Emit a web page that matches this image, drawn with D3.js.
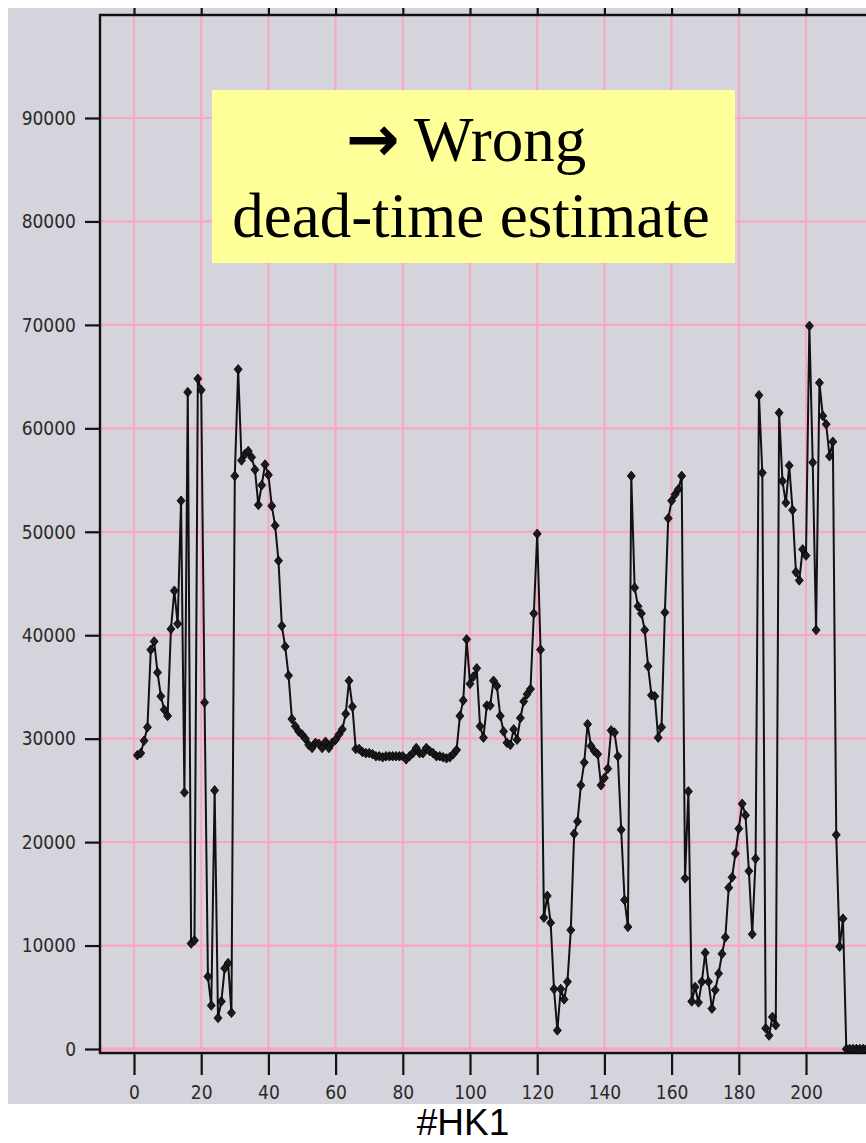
<!DOCTYPE html>
<html>
<head>
<meta charset="utf-8">
<script src="https://cdn.jsdelivr.net/npm/d3@7"></script>
<style>
  html, body { margin: 0; padding: 0; background: #fff; }
  svg { display: block; }
</style>
</head>
<body>
<div id="chart"></div>
<script>
// counts per readout, first point is readout #1
const counts = [
  28400, 28600, 29800, 31100, 38600, 39400, 36400, 34100, 32800, 32200,
  40600, 44300, 41100, 53000, 24800, 63500, 10200, 10500, 64800, 63700,
  33500, 7000, 4200, 25000, 3000, 4600, 7800, 8300, 3500, 55400,
  65700, 56900, 57500, 57800, 57200, 56000, 52600, 54500, 56500, 55500,
  52500, 50600, 47200, 40900, 38900, 36100, 31900, 31200, 30700, 30400,
  30000, 29400, 29100, 29600, 29500, 29100, 29700, 29100, 29600, 29900,
  30400, 30900, 32400, 35600, 33100, 29000, 29000, 28700, 28600, 28600,
  28500, 28300, 28300, 28200, 28300, 28300, 28300, 28300, 28300, 28300,
  28000, 28300, 28600, 29100, 28600, 28600, 29100, 28800, 28600, 28300,
  28300, 28200, 28100, 28200, 28500, 28900, 32200, 33700, 39600, 35300,
  36000, 36800, 31200, 30100, 33200, 33200, 35600, 35100, 32200, 30700,
  29600, 29400, 30900, 29900, 32000, 33600, 34300, 34800, 42100, 49800,
  38600, 12700, 14800, 12200, 5800, 1800, 5800, 4800, 6500, 11500,
  20800, 22000, 25500, 27700, 31400, 29300, 28800, 28500, 25500, 26200,
  27100, 30800, 30600, 28300, 21200, 14400, 11800, 55400, 44600, 42800,
  42100, 40500, 37000, 34200, 34100, 30100, 31100, 42200, 51300, 53000,
  53600, 54100, 55400, 16500, 24900, 4600, 6000, 4500, 6500, 9300,
  6500, 3900, 5700, 7300, 9200, 10800, 15600, 16600, 18900, 21300,
  23700, 22600, 17200, 11100, 18400, 63200, 55700, 2000, 1300, 3100,
  2300, 61500, 54900, 52800, 56400, 52100, 46100, 45300, 48300, 47700,
  69900, 56700, 40500, 64400, 61200, 60400, 57300, 58700, 20700, 9900,
  12600, 0, 0, 0, 0, 0, 0, 0, 0, 0, 0, 0
];
const xTicks = [0, 20, 40, 60, 80, 100, 120, 140, 160, 180, 200];
const yTicks = [0, 10000, 20000, 30000, 40000, 50000, 60000, 70000, 80000, 90000];
const noteLines = ["Wrong", "dead-time estimate"];
const caption = "#HK1";

const W = 866, H = 1143;
const panel = { left: 8, top: 8, bottom: 1104 };
const frame = { left: 100, top: 15, bottom: 1053 };

const data = counts.map((v, i) => [i + 1, v]);

const svg = d3.select("#chart").append("svg")
  .attr("width", W).attr("height", H);

svg.append("rect")
  .attr("x", panel.left).attr("y", panel.top)
  .attr("width", W - panel.left).attr("height", panel.bottom - panel.top)
  .attr("fill", "#d5d4dc");

var x = d3.scaleLinear().domain([0, 200]).range([134, 806]);
var y = d3.scaleLinear().domain([0, 90000]).range([1049, 118]);

// grid (220 line sits just off the right edge)
const grid = svg.append("g").attr("stroke", "#fba6bf");
grid.selectAll("line.v").data(xTicks).enter().append("line")
  .attr("x1", d => x(d)).attr("x2", d => x(d))
  .attr("y1", frame.top).attr("y2", y(0))
  .attr("stroke-width", 2);
grid.selectAll("line.h").data(yTicks).enter().append("line")
  .attr("x1", frame.left).attr("x2", W)
  .attr("y1", d => y(d)).attr("y2", d => y(d))
  .attr("stroke-width", d => d === 0 ? 3.5 : 2.2);

// axes
const tickFont = "'DejaVu Sans Condensed', 'DejaVu Sans', sans-serif";
const axisLeft = svg.append("g")
  .attr("transform", `translate(${frame.left},0)`)
  .call(d3.axisLeft(y).tickValues(yTicks).tickSize(15).tickPadding(9).tickFormat(d3.format("d")));
const axisBottom = svg.append("g")
  .attr("transform", `translate(0,${frame.bottom})`)
  .call(d3.axisBottom(x).tickValues(xTicks).tickSize(22).tickPadding(11));
const axisTop = svg.append("g")
  .attr("transform", `translate(0,${frame.top})`)
  .call(d3.axisTop(x).tickValues(xTicks).tickSize(7).tickFormat(""));

[axisLeft, axisBottom, axisTop].forEach(a => {
  a.select(".domain").remove();
  a.selectAll(".tick line").attr("stroke", "#111").attr("stroke-width", 2.2);
  a.selectAll(".tick text")
    .attr("fill", "#2a2a2a")
    .style("font-family", tickFont)
    .style("font-size", "19px");
});
axisLeft.selectAll(".tick text").attr("dy", "0.33em");

// frame
svg.append("path")
  .attr("d", `M${W},${frame.top}H${frame.left}V${frame.bottom + 1}`)
  .attr("fill", "none").attr("stroke", "#111").attr("stroke-width", 2.4);
svg.append("line")
  .attr("x1", frame.left - 1).attr("x2", W)
  .attr("y1", frame.bottom).attr("y2", frame.bottom)
  .attr("stroke", "#111").attr("stroke-width", 2.4);

// series
const line = d3.line().x(d => x(d[0])).y(d => y(d[1]));
svg.append("path")
  .datum(data)
  .attr("d", line)
  .attr("fill", "none")
  .attr("stroke", "#111")
  .attr("stroke-width", 2);

const diamond = {
  draw(ctx, size) {
    const w = 4, h = 4.8;
    ctx.moveTo(0, -h); ctx.lineTo(w, 0); ctx.lineTo(0, h); ctx.lineTo(-w, 0); ctx.closePath();
  }
};
svg.append("g").selectAll("path").data(data).enter().append("path")
  .attr("transform", d => `translate(${x(d[0])},${y(d[1])})`)
  .attr("d", d3.symbol().type(diamond))
  .attr("fill", "#1a1a1a")
  .attr("stroke", "#000")
  .attr("stroke-width", 0.8);

// annotation
const note = svg.append("g");
note.append("rect")
  .attr("x", 212).attr("y", 90).attr("width", 523).attr("height", 173)
  .attr("fill", "#ffff99");
const t1 = note.append("text")
  .attr("x", 466).attr("y", 161)
  .attr("text-anchor", "middle")
  .style("font-family", "'Liberation Serif', 'Times New Roman', serif")
  .style("font-size", "63px")
  .attr("fill", "#000");
t1.append("tspan")
  .style("font-family", "'DejaVu Sans', sans-serif")
  .style("font-weight", "bold")
  .style("font-size", "64px")
  .text("\u2192");
t1.append("tspan").text(" " + noteLines[0]);
note.append("text")
  .attr("x", 471).attr("y", 237)
  .attr("text-anchor", "middle")
  .style("font-family", "'Liberation Serif', 'Times New Roman', serif")
  .style("font-size", "63px")
  .attr("fill", "#000")
  .text(noteLines[1]);

// caption
svg.append("text")
  .attr("x", 463).attr("y", 1135)
  .attr("text-anchor", "middle")
  .style("font-family", "'Liberation Sans', Arial, sans-serif")
  .style("font-size", "37px")
  .attr("fill", "#000")
  .text(caption);
</script>
</body>
</html>
